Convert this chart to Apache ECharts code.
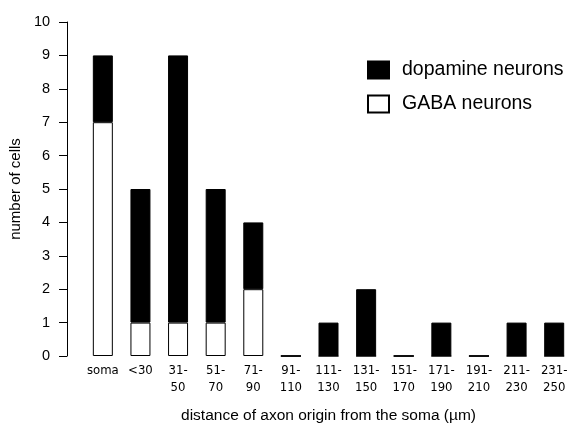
<!DOCTYPE html>
<html>
<head>
<meta charset="utf-8">
<script src="https://cdn.jsdelivr.net/npm/echarts@6/dist/echarts.min.js"></script>
<style>html,body{margin:0;padding:0;background:#fff;overflow:hidden}#c{width:573px;height:429px}</style>
</head>
<body>
<div id="c"></div>
<script>
var categories = ['soma', '<30', '31-\n50', '51-\n70', '71-\n90', '91-\n110', '111-\n130', '131-\n150', '151-\n170', '171-\n190', '191-\n210', '211-\n230', '231-\n250'];
var gabaValues = [7, 1, 1, 1, 2, 0, 0, 0, 0, 0, 0, 0, 0];
var dopamineValues = [2, 4, 8, 4, 2, 0, 1, 2, 0, 1, 0, 1, 1];
var yTicks = [0, 1, 2, 3, 4, 5, 6, 7, 8, 9, 10];

var font = "'Liberation Sans', Arial, Helvetica, sans-serif";
var narrow = "'Liberation Sans Narrow', 'DejaVu Sans Condensed', 'Liberation Sans', sans-serif";
var chart = echarts.init(document.getElementById('c'));
chart.setOption({
  animation: false,
  backgroundColor: '#fff',
  textStyle: { fontFamily: font, color: '#000' },
  grid: { left: 83.5, right: -4.5, top: 22, bottom: 66, containLabel: false },
  legend: {
    orient: 'vertical',
    left: 367,
    top: 60,
    padding: 0,
    icon: 'rect',
    itemWidth: 21,
    itemHeight: 17,
    itemGap: 14,
    data: ['dopamine neurons', 'GABA neurons'],
    textStyle: { fontFamily: font, fontSize: 19.5, lineHeight: 17, color: '#000', padding: [0, 0, 0, 8] }
  },
  xAxis: {
    type: 'category',
    data: categories,
    axisLine: { show: false },
    axisTick: { show: false },
    axisLabel: { color: '#000', fontSize: 13, fontFamily: narrow, margin: 6, lineHeight: 17, interval: 0 },
    name: 'distance of axon origin from the soma (\u00b5m)',
    nameLocation: 'middle',
    nameGap: 52,
    nameTextStyle: { color: '#000', fontSize: 15.5, fontFamily: font }
  },
  yAxis: {
    type: 'value',
    min: yTicks[0],
    max: yTicks[yTicks.length - 1],
    interval: 1,
    offset: 17,
    splitLine: { show: false },
    axisLine: { show: true, lineStyle: { color: '#000', width: 1 } },
    axisTick: { show: true, length: 8, lineStyle: { color: '#000' } },
    axisLabel: { color: '#000', fontSize: 14.5, fontFamily: font, margin: 17 },
    name: 'number of cells',
    nameLocation: 'middle',
    nameRotate: 90,
    nameGap: 40,
    nameTextStyle: { color: '#000', fontSize: 15, fontFamily: font }
  },
  series: [
    {
      name: 'GABA neurons',
      type: 'bar',
      stack: 'cells',
      barWidth: 20,
      data: gabaValues,
      itemStyle: { color: '#fff', borderColor: '#000', borderWidth: 1 }
    },
    {
      name: 'dopamine neurons',
      type: 'bar',
      stack: 'cells',
      barWidth: 20,
      data: dopamineValues,
      itemStyle: { color: '#000', borderColor: '#000', borderWidth: 1 }
    }
  ]
});
</script>
</body>
</html>
